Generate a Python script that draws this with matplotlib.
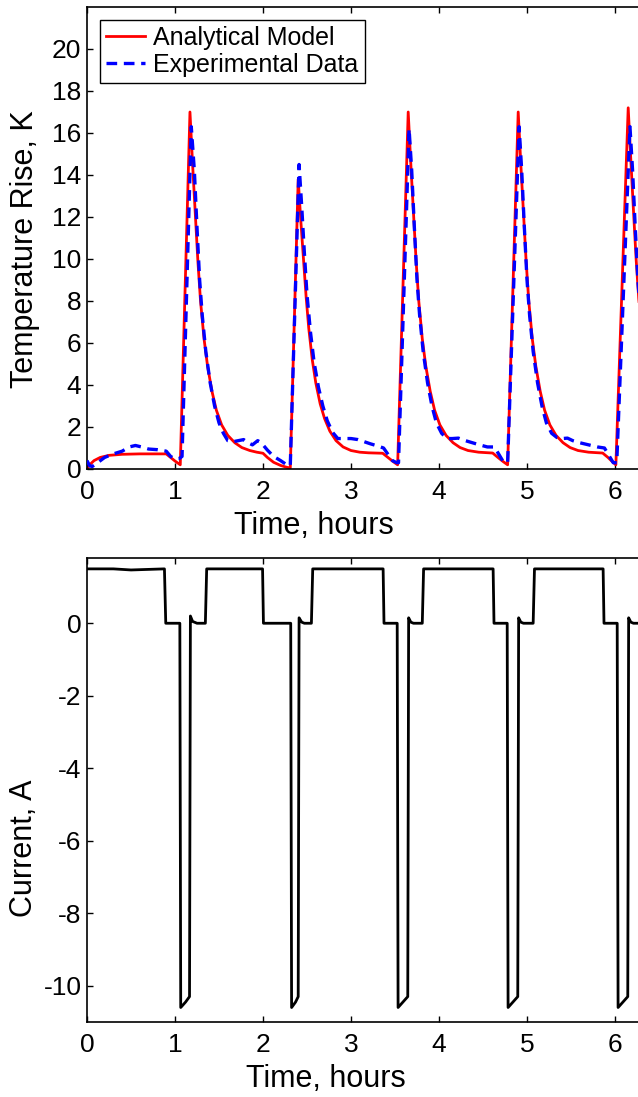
import matplotlib
matplotlib.use("Agg")
import matplotlib.pyplot as plt

plt.rcParams['font.family'] = ['Liberation Sans', 'DejaVu Sans']
plt.rcParams['axes.unicode_minus'] = False

# ---- Temperature rise: analytical model (red) ----
t_model = [0, 0.03, 0.08, 0.15, 0.25, 0.4, 0.6, 0.9, 0.95, 1.0, 1.06,
           1.17, 1.20, 1.23, 1.26, 1.29, 1.33, 1.37, 1.42, 1.47, 1.53, 1.60, 1.68, 1.76, 1.85, 1.93, 2.0,
           2.05, 2.12, 2.2, 2.27, 2.31,
           2.40, 2.43, 2.46, 2.49, 2.52, 2.56, 2.60, 2.65, 2.70, 2.76, 2.83, 2.91, 3.0, 3.1, 3.2, 3.36,
           3.42, 3.48, 3.53,
           3.65, 3.68, 3.71, 3.74, 3.77, 3.81, 3.85, 3.90, 3.95, 4.01, 4.08, 4.16, 4.24, 4.33, 4.45, 4.61,
           4.67, 4.73, 4.78,
           4.90, 4.93, 4.96, 4.99, 5.02, 5.06, 5.10, 5.15, 5.20, 5.26, 5.33, 5.41, 5.49, 5.58, 5.70, 5.86,
           5.92, 5.97, 6.01,
           6.15, 6.18, 6.21, 6.24, 6.27, 6.31, 6.35, 6.40, 6.45]
T_model = [0, 0.2, 0.4, 0.55, 0.65, 0.7, 0.72, 0.72, 0.55, 0.38, 0.2,
           17.0, 14.5, 12.2, 9.9, 8.0, 6.2, 4.9, 3.7, 2.8, 2.1, 1.6, 1.25, 1.02, 0.88, 0.8, 0.75,
           0.55, 0.32, 0.17, 0.08, 0.05,
           13.8, 11.8, 10.0, 8.2, 6.7, 5.2, 4.1, 3.1, 2.4, 1.8, 1.35, 1.05, 0.88, 0.8, 0.77, 0.75,
           0.55, 0.35, 0.2,
           17.0, 14.5, 12.2, 9.9, 8.0, 6.2, 4.9, 3.7, 2.8, 2.1, 1.6, 1.25, 1.02, 0.88, 0.8, 0.76,
           0.55, 0.35, 0.2,
           17.0, 14.5, 12.2, 9.9, 8.0, 6.2, 4.9, 3.7, 2.8, 2.1, 1.6, 1.25, 1.02, 0.88, 0.8, 0.76,
           0.55, 0.35, 0.2,
           17.2, 14.7, 12.3, 10.0, 8.1, 6.3, 5.0, 3.8, 2.9]

# ---- Temperature rise: experimental data (blue dashed) ----
t_exp = [0, 0.03, 0.06, 0.12, 0.2, 0.3, 0.4, 0.48, 0.55, 0.62, 0.7, 0.8, 0.9, 0.95, 1.0, 1.05, 1.08,
         1.185, 1.22, 1.25, 1.28, 1.31, 1.35, 1.40, 1.45, 1.50, 1.55, 1.60, 1.66, 1.72, 1.78, 1.83, 1.88,
         1.94, 1.98, 2.05, 2.12, 2.2, 2.27, 2.31,
         2.41, 2.44, 2.47, 2.50, 2.54, 2.58, 2.63, 2.68, 2.73, 2.79, 2.85, 2.92, 3.0, 3.08, 3.15, 3.22,
         3.3, 3.37, 3.42, 3.47, 3.52, 3.54,
         3.66, 3.69, 3.72, 3.75, 3.78, 3.82, 3.87, 3.92, 3.97, 4.03, 4.09, 4.15, 4.22, 4.3, 4.38, 4.46,
         4.55, 4.63, 4.68, 4.73, 4.78,
         4.91, 4.94, 4.97, 5.00, 5.03, 5.07, 5.12, 5.17, 5.22, 5.28, 5.34, 5.40, 5.46, 5.52, 5.6, 5.7,
         5.8, 5.88, 5.93, 5.98, 6.02,
         6.17, 6.20, 6.23, 6.26, 6.29, 6.33]
T_exp = [0.4, 0.15, 0.12, 0.3, 0.55, 0.72, 0.85, 1.05, 1.12, 1.05, 0.95, 0.92, 0.85, 0.6, 0.48, 0.5, 0.6,
         16.3, 14.2, 11.5, 9.0, 7.3, 5.6, 4.1, 3.0, 2.2, 1.7, 1.35, 1.3, 1.35, 1.4, 1.25, 1.15,
         1.35, 1.25, 0.9, 0.6, 0.4, 0.2, 0.15,
         14.5, 12.5, 10.3, 8.3, 6.5, 5.1, 3.9, 3.0, 2.3, 1.75, 1.45, 1.45, 1.45, 1.4, 1.3, 1.2,
         1.1, 1.0, 0.7, 0.4, 0.3, 0.3,
         16.2, 14.2, 11.5, 9.0, 7.3, 5.6, 4.1, 3.0, 2.2, 1.7, 1.45, 1.45, 1.47, 1.35, 1.25, 1.15,
         1.05, 1.05, 0.7, 0.35, 0.3,
         16.3, 14.2, 11.5, 9.0, 7.3, 5.6, 4.1, 3.0, 2.2, 1.7, 1.5, 1.45, 1.47, 1.35, 1.25, 1.15,
         1.05, 1.0, 0.65, 0.3, 0.3,
         16.3, 14.2, 11.5, 9.0, 7.3, 5.6]

# ---- Current profile ----
t_cur = [0, 0.3, 0.5, 0.88, 0.895, 1.055, 1.065, 1.12, 1.165, 1.175, 1.2, 1.25, 1.345, 1.36,
         1.6, 1.995, 2.005, 2.315, 2.325, 2.37, 2.40, 2.41, 2.44, 2.47, 2.55, 2.565,
         3.0, 3.365, 3.375, 3.525, 3.535, 3.59, 3.645, 3.655, 3.68, 3.71, 3.81, 3.825,
         4.2, 4.615, 4.625, 4.775, 4.785, 4.84, 4.895, 4.905, 4.93, 4.96, 5.07, 5.085,
         5.5, 5.865, 5.875, 6.025, 6.035, 6.09, 6.145, 6.155, 6.18, 6.21, 6.32, 6.335, 7.0]
i_cur = [1.5, 1.5, 1.47, 1.5, 0.0, 0.0, -10.6, -10.45, -10.3, 0.2, 0.05, 0.0, 0.0, 1.5,
         1.5, 1.5, 0.0, 0.0, -10.6, -10.45, -10.3, 0.15, 0.03, 0.0, 0.0, 1.5,
         1.5, 1.5, 0.0, 0.0, -10.6, -10.45, -10.3, 0.15, 0.03, 0.0, 0.0, 1.5,
         1.5, 1.5, 0.0, 0.0, -10.6, -10.45, -10.3, 0.15, 0.03, 0.0, 0.0, 1.5,
         1.5, 1.5, 0.0, 0.0, -10.6, -10.45, -10.3, 0.15, 0.03, 0.0, 0.0, 1.5, 1.5]

x_ticks = [0, 1, 2, 3, 4, 5, 6]
temp_ticks = [0, 2, 4, 6, 8, 10, 12, 14, 16, 18, 20]
cur_ticks = [-10, -8, -6, -4, -2, 0]

W, H = 638, 1097
fig = plt.figure(figsize=(W / 100, H / 100), dpi=100)

AX_L, AX_W = 87, 7 * 88

def px_axes(top, bottom):
    return fig.add_axes([AX_L / W, 1 - bottom / H, AX_W / W, (bottom - top) / H])

ax1 = px_axes(7, 469)
ax2 = px_axes(558, 1022)

for ax in (ax1, ax2):
    for s in ax.spines.values():
        s.set_linewidth(1.2)
    ax.tick_params(direction='in', top=True, right=True, length=4, width=1.0, labelsize=19)
    ax.tick_params(axis='x', pad=8)
    ax.tick_params(axis='y', pad=4)
    ax.set_xlim(0, 7)
    ax.set_xticks(x_ticks)

ax1.plot(t_model, T_model, color='#ff0000', lw=2.0, label='Analytical Model', zorder=2)
ax1.plot(t_exp, T_exp, color='#0000ff', lw=2.4, dashes=(3.2, 2.0), label='Experimental Data', zorder=3)
ax1.set_ylim(0, 22)
ax1.set_yticks(temp_ticks)
ax1.set_ylabel('Temperature Rise, K', fontsize=22, va='center')
ax1.yaxis.set_label_coords((25 - AX_L) / AX_W, (469 - 249) / 462)
ax1.set_xlabel('Time, hours', fontsize=22, va='center')
ax1.xaxis.set_label_coords((314 - AX_L) / AX_W, (469 - 526) / 462)
leg = ax1.legend(loc='upper left', fontsize=18, frameon=True, fancybox=False,
                 edgecolor='black', framealpha=1, borderpad=0.25, labelspacing=0.12,
                 handlelength=1.55, handletextpad=0.35, borderaxespad=0.5)
leg.get_frame().set_linewidth(1.0)

ax2.plot(t_cur, i_cur, color='black', lw=2.0)
ax2.set_ylim(-11.0, 1.8)
ax2.set_yticks(cur_ticks)
ax2.set_ylabel('Current, A', fontsize=22, va='center')
ax2.yaxis.set_label_coords((24 - AX_L) / AX_W, (1022 - 848) / 464)
ax2.set_xlabel('Time, hours', fontsize=22, va='center')
ax2.xaxis.set_label_coords((326 - AX_L) / AX_W, (1022 - 1079) / 464)

fig.savefig('out.png', dpi=100)
